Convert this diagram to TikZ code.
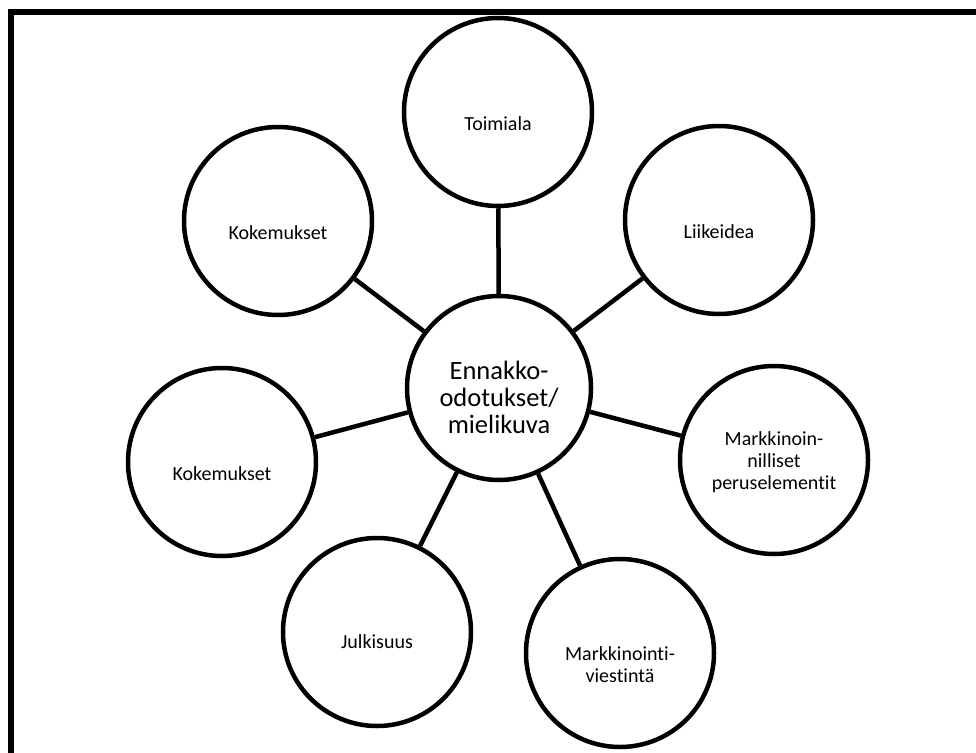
\documentclass[tikz,border=0pt]{standalone}
\usepackage{fontspec}
\setmainfont{Carlito}[Ligatures={NoCommon}]
\begin{document}
\begin{tikzpicture}[x=1pt,y=-1pt,
  circ/.style={circle,draw=black,line width=4.5pt,minimum size=188pt,inner sep=0pt,fill=white},
  hub/.style={circle,draw=black,line width=4.5pt,minimum size=184pt,inner sep=0pt,fill=white},
  lbl/.style={align=center,font=\fontsize{20}{22}\selectfont,inner sep=0pt},
  hublbl/.style={align=center,font=\fontsize{26.5}{27}\selectfont,inner sep=0pt},
  conn/.style={line width=4.5pt}]
\useasboundingbox (0,0) rectangle (976,752);
\fill[white] (0,0) rectangle (976,752);
% frame (cut by the page at right and bottom)
\coordinate (fa) at (11,760);
\coordinate (fb) at (11,12);
\coordinate (fc) at (990,12);
\draw[line width=6pt,line join=miter] (fa) -- (fb) -- (fc);
% nodes
\node[hub] (c) at (499,388) {};
\node[circ] (toim) at (498,112) {};
\node[circ] (kok1) at (278,221) {};
\node[circ] (liik) at (719,220) {};
\node[circ] (kok2) at (222,462) {};
\node[circ] (mark) at (774,460) {};
\node[circ] (julk) at (377,632) {};
\node[circ] (visi) at (620,653) {};
% connectors
\foreach \n in {toim,kok1,liik,kok2,mark,julk,visi}
  \draw[conn] (c) -- (\n);
% labels
\node[hublbl] (tc) at ([yshift=-9pt]c.center) {Ennakko-\\odotukset/\\mielikuva};
\node[lbl] (t1) at ([yshift=-12pt]toim.center) {Toimiala};
\node[lbl] (t2) at ([yshift=-12pt]kok1.center) {Kokemukset};
\node[lbl] (t3) at ([yshift=-12pt]liik.center) {Liikeidea};
\node[lbl] (t4) at ([yshift=-12pt]kok2.center) {Kokemukset};
\node[lbl] (t5) at ([yshift=-2pt]mark.center) {Markkinoin-\\nilliset\\peruselementit};
\node[lbl] (t6) at ([yshift=-10pt]julk.center) {Julkisuus};
\node[lbl] (t7) at ([yshift=-12pt]visi.center) {Markkinointi-\\viestintä};
\end{tikzpicture}
\end{document}
